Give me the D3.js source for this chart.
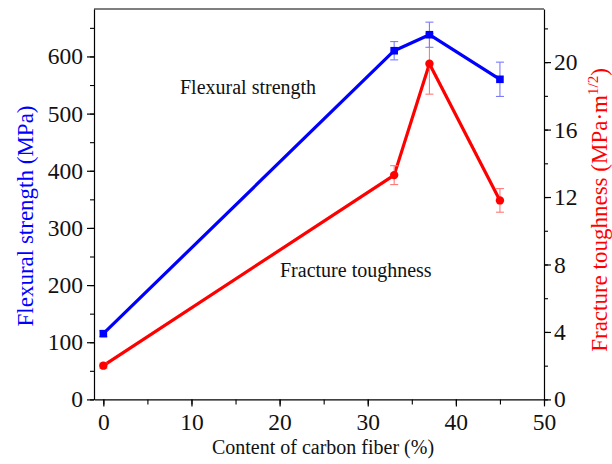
<!DOCTYPE html>
<html>
<head>
<meta charset="utf-8">
<script src="https://cdn.jsdelivr.net/npm/d3@7"></script>
<style>
  html, body { margin: 0; padding: 0; background: #fff; }
  svg text { font-family: "Liberation Serif", "Times New Roman", serif !important; }
</style>
</head>
<body>
<svg id="chart" width="612" height="464"></svg>
<script>
// ---- data ----
const fiberContent = [0, 33, 37, 45];
const flexuralStrength = [115, 610, 638, 560];
const flexuralError = [5, 16, 22, 30];
const fractureToughness = [2.0, 13.3, 19.9, 11.8];
const fractureError = [0.15, 0.56, 1.8, 0.7];
const xTicks = [0, 10, 20, 30, 40, 50];
const leftTicks = [0, 100, 200, 300, 400, 500, 600];
const rightTicks = [0, 4, 8, 12, 16, 20];

(function () {
const svg = d3.select("#chart");
const pL = 94, pR = 544, pT = 9, pB = 399.4;
const serif = "'Liberation Serif', 'Times New Roman', serif";

const x = d3.scaleLinear().domain([-1.06, 50]).range([pL, pR]);
const yL = d3.scaleLinear().domain([0, 683]).range([pB, pT]);
const yR = d3.scaleLinear().domain([0, 23.15]).range([pB, pT]);

const blue = "#0000ff", red = "#ff0000";

// frame top line
svg.append("line").attr("x1", pL).attr("x2", pR).attr("y1", pT).attr("y2", pT)
  .attr("stroke", "#000").attr("stroke-width", 1.2);

function styleAxis(g) {
  g.attr("font-family", null).attr("font-size", null);
  g.selectAll(".domain").attr("stroke", "#000").attr("stroke-width", 1.2);
  g.selectAll(".tick line").attr("stroke", "#000").attr("stroke-width", 1.2);
  g.selectAll("text").style("font-family", serif).style("font-size", "23.5px").attr("fill", "#111");
}

// minor ticks
const gMinX = svg.append("g").attr("transform", `translate(0,${pB})`)
  .call(d3.axisBottom(x).tickValues(d3.range(0, 51, 5)).tickSize(5).tickFormat(""));
gMinX.select(".domain").remove();
gMinX.selectAll("line").attr("stroke", "#000").attr("stroke-width", 1.1);
const gMinL = svg.append("g").attr("transform", `translate(${pL},0)`)
  .call(d3.axisLeft(yL).tickValues(d3.range(0, 651, 50)).tickSize(4).tickFormat(""));
gMinL.select(".domain").remove();
gMinL.selectAll("line").attr("stroke", "#000").attr("stroke-width", 1.1);
const gMinR = svg.append("g").attr("transform", `translate(${pR},0)`)
  .call(d3.axisRight(yR).tickValues(d3.range(0, 23, 2)).tickSize(4).tickFormat(""));
gMinR.select(".domain").remove();
gMinR.selectAll("line").attr("stroke", "#000").attr("stroke-width", 1.1);

// major axes
const gx = svg.append("g").attr("transform", `translate(0,${pB})`)
  .call(d3.axisBottom(x).tickValues(xTicks).tickSize(7).tickPadding(7).tickSizeOuter(0));
styleAxis(gx);
const gl = svg.append("g").attr("transform", `translate(${pL},0)`)
  .call(d3.axisLeft(yL).tickValues(leftTicks).tickSize(7).tickPadding(4).tickSizeOuter(0));
styleAxis(gl);
const gr = svg.append("g").attr("transform", `translate(${pR},0)`)
  .call(d3.axisRight(yR).tickValues(rightTicks).tickSize(7).tickPadding(3).tickSizeOuter(0));
styleAxis(gr);

// axis titles
svg.append("text").attr("x", 323).attr("y", 454).attr("text-anchor", "middle")
  .style("font-size", "20px").attr("fill", "#111").text("Content of carbon fiber (%)");
svg.append("text").attr("transform", `translate(33,${(104+328)/2}) rotate(-90)`)
  .attr("text-anchor", "middle").style("font-size", "23px").attr("fill", blue)
  .text("Flexural strength (MPa)");
const rt = svg.append("text").attr("transform", `translate(607,${(68+352)/2}) rotate(-90)`)
  .attr("text-anchor", "middle").style("font-size", "23px").attr("fill", red);
rt.append("tspan").text("Fracture toughness (MPa·m");
rt.append("tspan").style("font-size", "15px").attr("dy", -9).text("1/2");
rt.append("tspan").attr("dy", 9).text(")");

// annotations
svg.append("text").attr("x", 180).attr("y", 94).style("font-size", "20px").attr("fill", "#111").text("Flexural strength");
svg.append("text").attr("x", 280).attr("y", 277).style("font-size", "20px").attr("fill", "#111").text("Fracture toughness");

// series data
const flex = fiberContent.map((c, i) => ({ c, v: flexuralStrength[i], e: flexuralError[i] }));
const frac = fiberContent.map((c, i) => ({ c, v: fractureToughness[i], e: fractureError[i] }));

function errorBars(data, y, color) {
  const g = svg.append("g").attr("stroke", color).attr("stroke-width", 1.1).attr("fill", "none");
  data.forEach(d => {
    const cx = x(d.c), y1 = y(d.v - d.e), y2 = y(d.v + d.e);
    g.append("line").attr("x1", cx).attr("x2", cx).attr("y1", y1).attr("y2", y2);
    g.append("line").attr("x1", cx - 4).attr("x2", cx + 4).attr("y1", y1).attr("y2", y1);
    g.append("line").attr("x1", cx - 4).attr("x2", cx + 4).attr("y1", y2).attr("y2", y2);
  });
}

// red series
svg.append("path").datum(frac)
  .attr("d", d3.line().x(d => x(d.c)).y(d => yR(d.v)))
  .attr("fill", "none").attr("stroke", red).attr("stroke-width", 3.2).attr("stroke-linejoin", "round");
errorBars(frac, yR, "#ff7a7a");
svg.append("g").selectAll("circle").data(frac).join("circle")
  .attr("cx", d => x(d.c)).attr("cy", d => yR(d.v)).attr("r", 4.2).attr("fill", red);

// blue series
svg.append("path").datum(flex)
  .attr("d", d3.line().x(d => x(d.c)).y(d => yL(d.v)))
  .attr("fill", "none").attr("stroke", blue).attr("stroke-width", 3.2).attr("stroke-linejoin", "round");
errorBars(flex, yL, "#7a7aff");
svg.append("g").selectAll("rect").data(flex).join("rect")
  .attr("x", d => x(d.c) - 3.8).attr("y", d => yL(d.v) - 3.8).attr("width", 7.6).attr("height", 7.6)
  .attr("fill", blue);
})();
</script>
</body>
</html>
